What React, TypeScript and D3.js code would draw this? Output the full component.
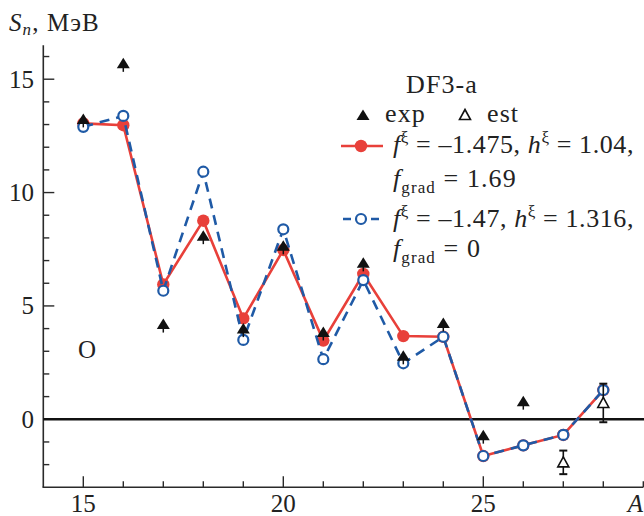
import React from "react";
import * as d3 from "d3";

// Neutron separation energies S_n (MeV) of oxygen isotopes versus mass number A
const massNumbers = [15, 16, 17, 18, 19, 20, 21, 22, 23, 24, 25, 26, 27, 28];
const snGradient = [13.05, 12.97, 5.95, 8.76, 4.45, 7.47, 3.47, 6.41, 3.67, 3.64, -1.62, -1.15, -0.69, 1.29];
const snNoGradient = [12.9, 13.38, 5.67, 10.92, 3.5, 8.38, 2.65, 6.14, 2.47, 3.64, -1.62, -1.15, -0.69, 1.29];

const expMass = [15, 16, 17, 18, 19, 20, 21, 22, 23, 24, 25, 26];
const expSn = [13.25, 15.7, 4.2, 8.1, 4.0, 7.65, 3.85, 6.9, 2.8, 4.25, -0.7, 0.8];

const estMass = [27, 28];
const estSn = [-1.9, 0.72];
const estErr = [0.52, 0.85];

const xMajorTicks = [15, 20, 25];
const yMajorTicks = [0, 5, 10, 15];

const W = 644;
const H = 516;
const RED = "#e8403a";
const BLUE = "#1f5aa6";
const AXIS = "#2a2a2a";
const FONT = "'Liberation Serif', 'Times New Roman', 'DejaVu Serif', serif";
const txt = { fontFamily: FONT };
const legendTxt = { fontFamily: FONT, letterSpacing: "1.1px" };
const legendLongTxt = { fontFamily: FONT, letterSpacing: "0.6px" };

export default function App() {
  const x = d3.scaleLinear().domain([14, 29]).range([43.3, 643.3]);
  const y = d3.scaleLinear().domain([-3, 16.5]).range([487.3, 45.2]);

  const xMinor = d3.range(15, 30);
  const yMinor = d3.range(-2, 17);

  const redPts: [number, number][] = massNumbers.map((a, i) => [a, snGradient[i]]);
  const bluePts: [number, number][] = massNumbers.map((a, i) => [a, snNoGradient[i]]);
  const line = d3
    .line<[number, number]>()
    .x((d) => x(d[0]))
    .y((d) => y(d[1]));

  const triFilled = "M0,-5.5 L6.5,5 L-6.5,5 Z";
  const triOpen = "M0,-5.5 L5.5,4.5 L-5.5,4.5 Z";

  const x0 = x(14);
  const yBottom = y(-3);
  const yTop = y(16.5);

  return (
    <svg
      width={W}
      height={H}
      style={{ position: "absolute", left: 0, top: 0, background: "#fff" }}
    >
      {/* axes */}
      <line x1={x0} x2={x0} y1={yTop} y2={yBottom} stroke={AXIS} strokeWidth={1.6} />
      <line x1={x0 - 0.8} x2={x(29)} y1={yBottom} y2={yBottom} stroke={AXIS} strokeWidth={1.6} />
      {xMinor.map((t) => (
        <line
          key={"xt" + t}
          x1={x(t)}
          x2={x(t)}
          y1={yBottom}
          y2={yBottom - (xMajorTicks.includes(t) ? 11 : 6)}
          stroke={AXIS}
          strokeWidth={1.4}
        />
      ))}
      {yMinor.map((t) => (
        <line
          key={"yt" + t}
          x1={x0}
          x2={x0 + (yMajorTicks.includes(t) ? 11 : 6)}
          y1={y(t)}
          y2={y(t)}
          stroke={AXIS}
          strokeWidth={1.4}
        />
      ))}
      {xMajorTicks.map((t) => (
        <text key={"xl" + t} x={x(t)} y={512} fontSize={25} textAnchor="middle" fill="#222" style={txt}>
          {t}
        </text>
      ))}
      {yMajorTicks.map((t) => (
        <text
          key={"yl" + t}
          x={34}
          y={y(t)}
          dy="0.34em"
          fontSize={25}
          textAnchor="end"
          fill="#222"
          style={txt}
        >
          {t}
        </text>
      ))}
      <text x={643} y={512} fontSize={25} fontStyle="italic" textAnchor="end" fill="#222" style={txt}>
        A
      </text>
      <text x={9} y={31} fontSize={25} fill="#222" style={legendTxt}>
        <tspan fontStyle="italic">S</tspan>
        <tspan fontStyle="italic" fontSize={17} dy={4}>n</tspan>
        <tspan dy={-4}>, МэВ</tspan>
      </text>

      {/* zero line */}
      <line x1={x0} x2={W} y1={y(0)} y2={y(0)} stroke="#111" strokeWidth={2.4} />

      <text x={87} y={358} fontSize={25} textAnchor="middle" fill="#222" style={txt}>
        O
      </text>

      {/* f_grad = 1.69 series */}
      <path d={line(redPts) ?? ""} fill="none" stroke={RED} strokeWidth={2.6} />
      {redPts.map((d, i) => (
        <circle key={"r" + i} cx={x(d[0])} cy={y(d[1])} r={6.2} fill={RED} />
      ))}

      {/* f_grad = 0 series */}
      <path
        d={line(bluePts) ?? ""}
        fill="none"
        stroke={BLUE}
        strokeWidth={2.6}
        strokeDasharray="10 7"
      />
      {bluePts.map((d, i) => (
        <circle
          key={"b" + i}
          cx={x(d[0])}
          cy={y(d[1])}
          r={5}
          fill="#fff"
          stroke={BLUE}
          strokeWidth={2.2}
        />
      ))}

      {/* estimated values with error bars */}
      {estMass.map((a, i) => {
        const cx = x(a);
        const yHi = y(estSn[i] + estErr[i]);
        const yLo = y(estSn[i] - estErr[i]);
        return (
          <g key={"e" + a}>
            <line x1={cx} x2={cx} y1={yHi} y2={yLo} stroke="#111" strokeWidth={1.6} />
            <line x1={cx - 4} x2={cx + 4} y1={yHi} y2={yHi} stroke="#111" strokeWidth={2} />
            <line x1={cx - 4} x2={cx + 4} y1={yLo} y2={yLo} stroke="#111" strokeWidth={2} />
            <path
              d={triOpen}
              transform={`translate(${cx},${y(estSn[i])})`}
              fill="#fff"
              stroke="#111"
              strokeWidth={1.6}
            />
          </g>
        );
      })}

      {/* experimental values */}
      {expMass.map((a, i) => {
        const cx = x(a);
        const cy = y(expSn[i]);
        return (
          <g key={"x" + a}>
            <line x1={cx} x2={cx} y1={cy} y2={cy + 8.5} stroke="#111" strokeWidth={1.5} />
            <path d={triFilled} transform={`translate(${cx},${cy})`} fill="#111" />
          </g>
        );
      })}

      {/* legend */}
      <g fill="#222" fontSize={26}>
        <text x={406} y={93} style={legendTxt}>DF3-a</text>
        <path d={triFilled} transform="translate(363,115)" fill="#111" />
        <text x={385} y={122} style={legendTxt}>exp</text>
        <path d={triOpen} transform="translate(465,115)" fill="#fff" stroke="#111" strokeWidth={1.6} />
        <text x={487} y={122} style={legendTxt}>est</text>

        <line x1={341} x2={383} y1={146} y2={146} stroke={RED} strokeWidth={2.6} />
        <circle cx={361} cy={146} r={6.2} fill={RED} />
        <text x={393} y={153} style={legendLongTxt}>
          <tspan fontStyle="italic">f</tspan>
          <tspan fontSize={17} dy={-10}>ξ</tspan>
          <tspan dy={10}> = –1.475, </tspan>
          <tspan fontStyle="italic">h</tspan>
          <tspan fontSize={17} dy={-10}>ξ</tspan>
          <tspan dy={10}> = 1.04,</tspan>
        </text>
        <text x={393} y={187} style={legendTxt}>
          <tspan fontStyle="italic">f</tspan>
          <tspan fontSize={17} dy={6}>grad</tspan>
          <tspan dy={-6}> = 1.69</tspan>
        </text>

        <line
          x1={341}
          x2={383}
          y1={219}
          y2={219}
          stroke={BLUE}
          strokeWidth={2.6}
          strokeDasharray="8 6"
          strokeDashoffset={-2}
        />
        <circle cx={361} cy={219} r={5} fill="#fff" stroke={BLUE} strokeWidth={2.2} />
        <text x={393} y={227} style={legendLongTxt}>
          <tspan fontStyle="italic">f</tspan>
          <tspan fontSize={17} dy={-10}>ξ</tspan>
          <tspan dy={10}> = –1.47, </tspan>
          <tspan fontStyle="italic">h</tspan>
          <tspan fontSize={17} dy={-10}>ξ</tspan>
          <tspan dy={10}> = 1.316,</tspan>
        </text>
        <text x={393} y={257} style={legendTxt}>
          <tspan fontStyle="italic">f</tspan>
          <tspan fontSize={17} dy={6}>grad</tspan>
          <tspan dy={-6}> = 0</tspan>
        </text>
      </g>
    </svg>
  );
}
